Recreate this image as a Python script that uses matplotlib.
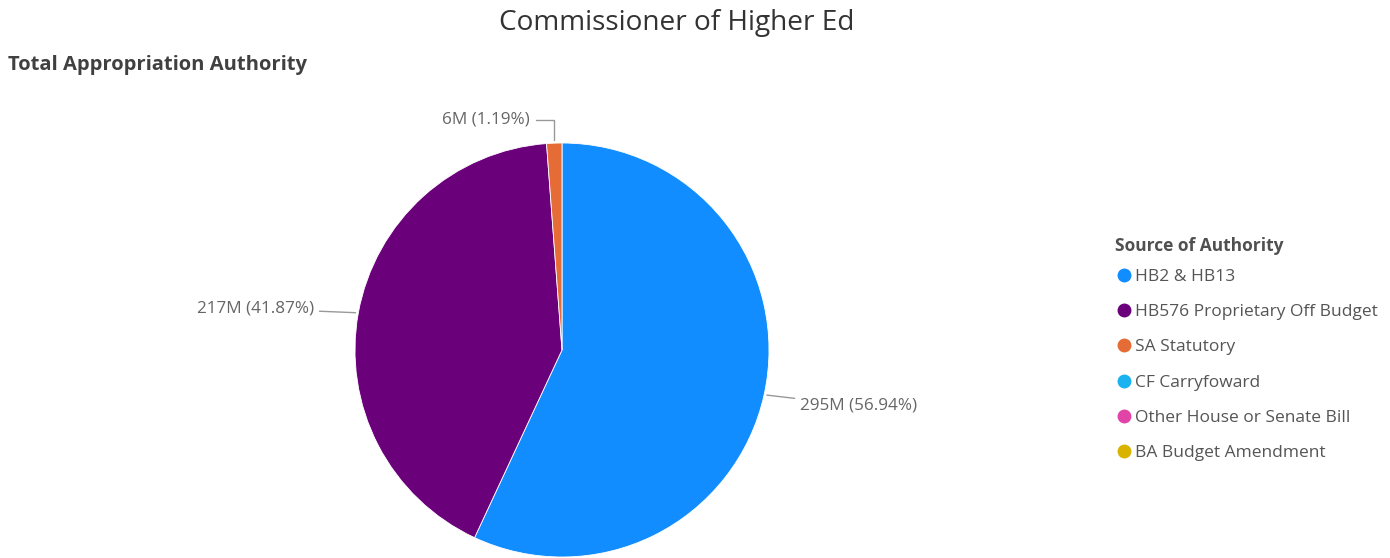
import numpy as np
import matplotlib.pyplot as plt

plt.rcParams['font.family'] = ['Open Sans', 'DejaVu Sans']

sources = ['HB2 & HB13', 'HB576 Proprietary Off Budget', 'SA Statutory',
           'CF Carryfoward', 'Other House or Senate Bill', 'BA Budget Amendment']
amounts_m = [295, 217, 6, 0, 0, 0]
shares = [56.94, 41.87, 1.19, 0, 0, 0]
colors = ['#118DFF', '#6B007B', '#E66C37', '#1AB2F0', '#E044A7', '#D9B300']

fig = plt.figure(figsize=(13.9, 5.58), dpi=100)
fig.patch.set_facecolor('white')

fig.text(0.4865, 0.958, 'Commissioner of Higher Ed', ha='center', va='center',
         fontsize=20.2, color='#333333')
fig.text(0.006, 0.883, 'Total Appropriation Authority', ha='left', va='center',
         fontsize=14.5, fontweight='bold', color='#404040')

ax = fig.add_axes([355 / 1390, 1 / 558, 414 / 1390, 414 / 558])
nz = [i for i, v in enumerate(shares) if v > 0]
wedges, _ = ax.pie([shares[i] for i in nz], colors=[colors[i] for i in nz],
                   startangle=90, counterclock=False, radius=1,
                   wedgeprops=dict(linewidth=0.6, edgecolor='white'))
ax.set_xlim(-1, 1)
ax.set_ylim(-1, 1)
ax.set_aspect('equal')

lab_kw = dict(fontsize=12.3, color='#666666', va='center')
line_kw = dict(arrowstyle='-', color='#999999', lw=1)
for w, i in zip(wedges, nz):
    ang = np.deg2rad((w.theta1 + w.theta2) / 2)
    x, y = np.cos(ang), np.sin(ang)
    label = f'{amounts_m[i]}M ({shares[i]:.2f}%)'
    if abs(y) > 0.9:
        ax.annotate(label, xy=(x, y), xytext=(-17.5, 17), textcoords='offset points',
                    ha='right', arrowprops=dict(connectionstyle='angle,angleA=0,angleB=90,rad=0', **line_kw),
                    **lab_kw)
    elif x > 0:
        ax.annotate(label, xy=(x, y), xytext=(26, -8), textcoords='offset points',
                    ha='left', arrowprops=line_kw, **lab_kw)
    else:
        ax.annotate(label, xy=(x, y), xytext=(-32, 3), textcoords='offset points',
                    ha='right', arrowprops=line_kw, **lab_kw)

fig.text(1115 / 1390, 1 - 246 / 558, 'Source of Authority', ha='left', va='center',
         fontsize=12.5, fontweight='bold', color='#505050')
handles = [plt.Line2D([], [], marker='o', linestyle='', markersize=9,
                      markerfacecolor=c, markeredgecolor=c) for c in colors]
leg = fig.legend(handles, sources, loc='upper left', bbox_to_anchor=(0.797, 0.534),
                 frameon=False, alignment='left', fontsize=12.5,
                 handletextpad=0.15, labelspacing=1.1, borderpad=0, handlelength=0.9)
for t in leg.get_texts():
    t.set_color('#555555')

fig.savefig('out.png', dpi=100, facecolor='white')
